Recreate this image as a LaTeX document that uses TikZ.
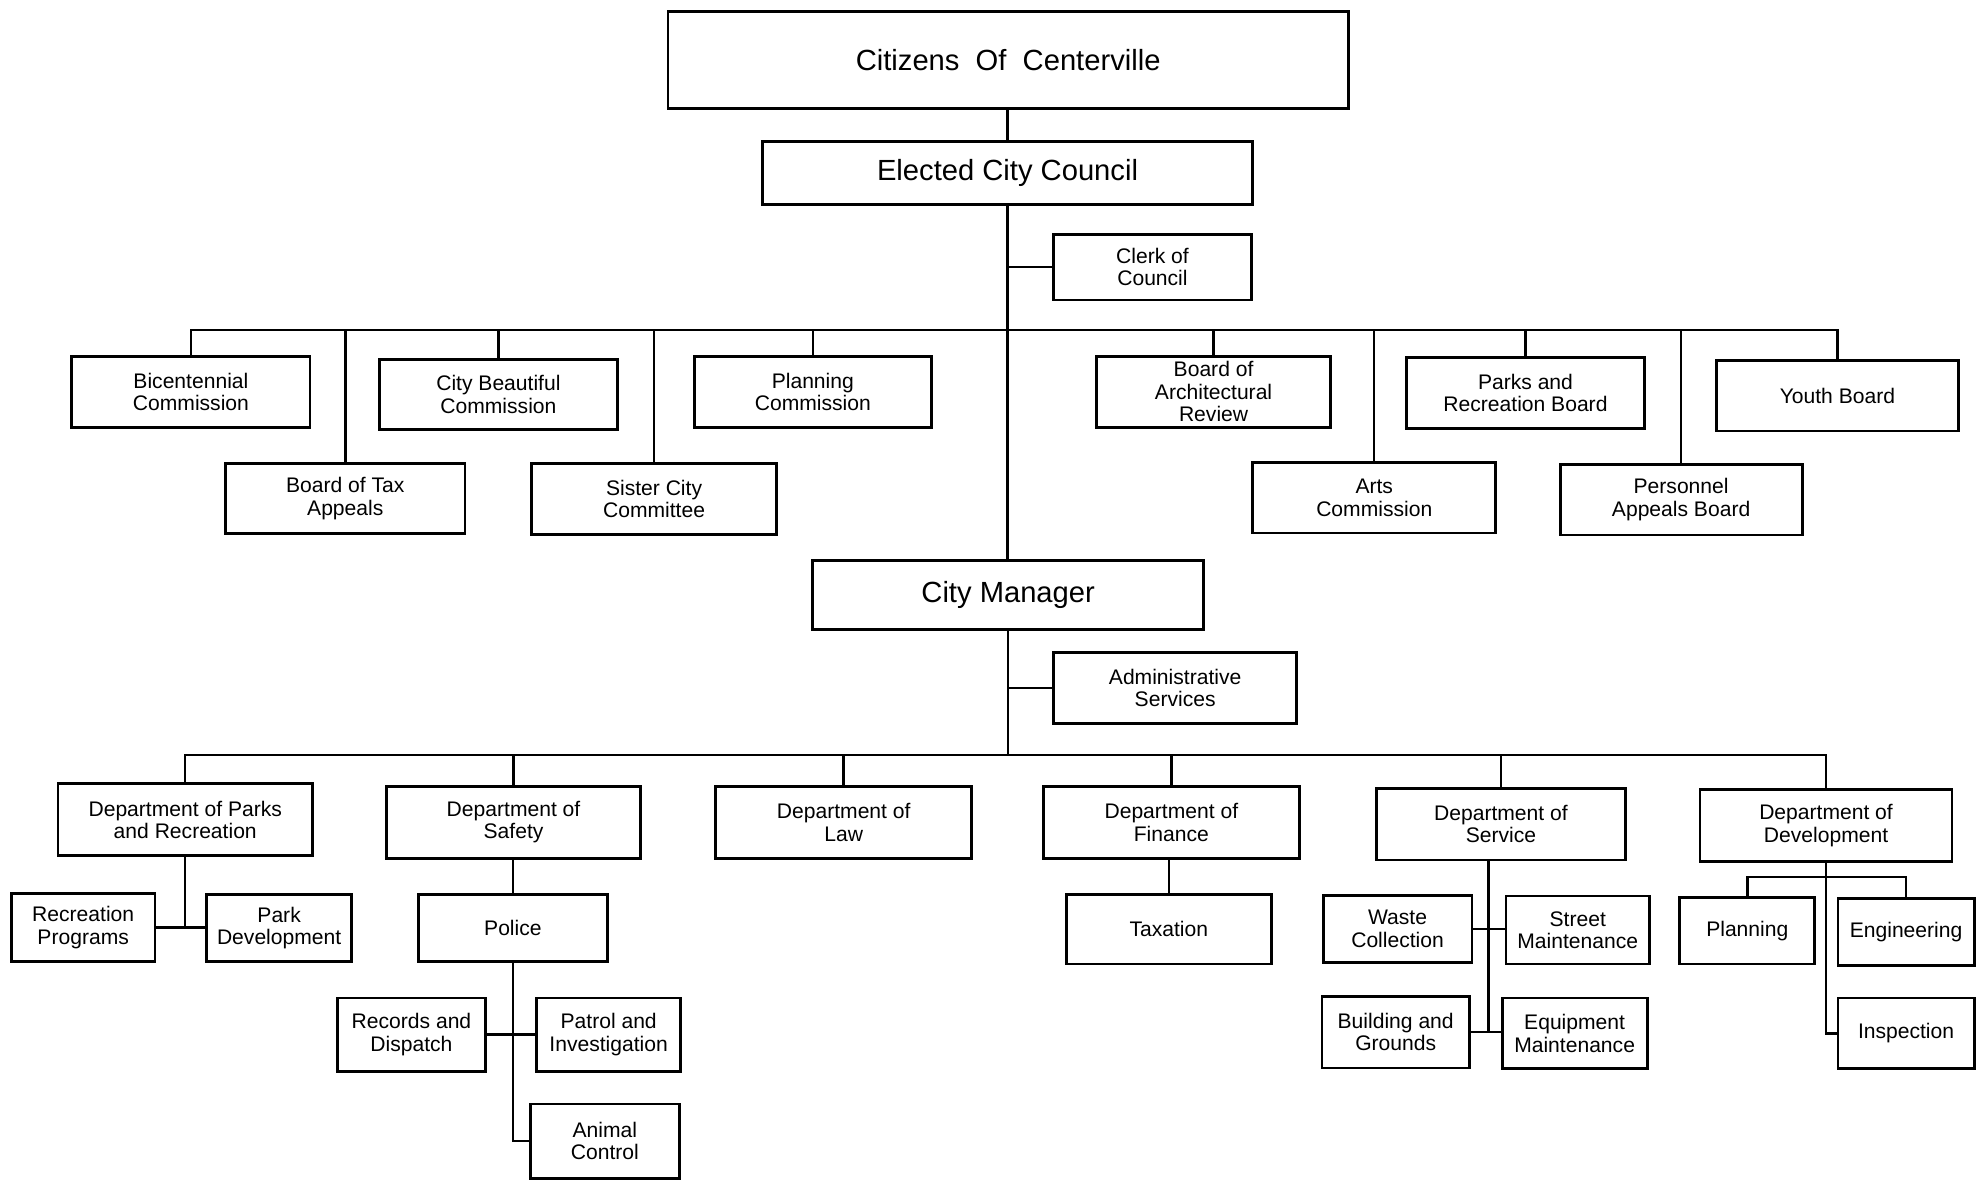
\documentclass[tikz,border=0pt]{standalone}
\usepackage{fontspec}
\setmainfont{Liberation Sans}
\usepackage{tikz}
\newcommand{\unitpx}{0.0126cm}

\begin{document}
\begin{tikzpicture}[x=\unitpx, y=-\unitpx,
	box/.style={draw, line width=0.8pt, inner sep=0pt, align=center, font=\fontsize{6}{6.4}\selectfont},
	big/.style={box, font=\fontsize{8.3}{10}\selectfont},
	wh/.style 2 args={minimum width=#1*\unitpx, minimum height=#2*\unitpx},
	link/.style={line width=0.7pt}]
	\useasboundingbox (0,0) rectangle (1568,936);
	% council level
	\node[big, wh={540}{77}] (citizens) at (800,47.5) {Citizens\ \ Of\ \ Centerville};
	\node[big, wh={389}{50}] (council) at (799.5,137) {Elected City Council};
	\node[box, wh={157}{52}] (clerk) at (914.5,212) {Clerk of\\Council};
	% boards and commissions
	\node[box, wh={189}{56}] (bicent) at (151.5,311) {Bicentennial\\Commission};
	\node[box, wh={189}{56}] (beautiful) at (395.5,313) {City Beautiful\\Commission};
	\node[box, wh={188}{56}] (plancomm) at (645,311) {Planning\\Commission};
	\node[box, wh={186}{56}] (archrev) at (963,311) {Board of\\Architectural\\Review};
	\node[box, wh={189}{56}] (parksboard) at (1210.5,312) {Parks and\\Recreation Board};
	\node[box, wh={192}{56}] (youth) at (1458,314) {Youth Board};
	\node[box, wh={190}{56}] (taxappeals) at (274,395.5) {Board of Tax\\Appeals};
	\node[box, wh={194}{56}] (sister) at (519,396) {Sister City\\Committee};
	\node[box, wh={193}{56}] (arts) at (1090.5,395) {Arts\\Commission};
	\node[box, wh={192}{56}] (personnel) at (1334,396.5) {Personnel\\Appeals Board};
	% manager level
	\node[big, wh={310}{55}] (manager) at (800,472) {City Manager};
	\node[box, wh={193}{56}] (admin) at (932.5,546) {Administrative\\Services};
	% departments
	\node[box, wh={202}{57}] (dparks) at (147,650.5) {Department of Parks\\and Recreation};
	\node[box, wh={201}{57}] (dsafety) at (407.5,652.5) {Department of\\Safety};
	\node[box, wh={203}{57}] (dlaw) at (669.5,652.5) {Department of\\Law};
	\node[box, wh={203}{57}] (dfinance) at (929.5,652.5) {Department of\\Finance};
	\node[box, wh={198}{57}] (dservice) at (1191,654) {Department of\\Service};
	\node[box, wh={200}{57}] (ddevel) at (1449,655) {Department of\\Development};
	% divisions
	\node[box, wh={114}{54}] (recprog) at (66,736) {Recreation\\Programs};
	\node[box, wh={115}{53}] (parkdev) at (221.5,736.5) {Park\\Development};
	\node[box, wh={150}{53}] (police) at (407,736.5) {Police};
	\node[box, wh={117}{58}] (records) at (326.5,821) {Records and\\Dispatch};
	\node[box, wh={114}{58}] (patrol) at (483,821) {Patrol and\\Investigation};
	\node[box, wh={118}{59}] (animal) at (480,905.5) {Animal\\Control};
	\node[box, wh={163}{55}] (taxation) at (927.5,737.5) {Taxation};
	\node[box, wh={118}{53}] (waste) at (1109,737) {Waste\\Collection};
	\node[box, wh={114}{54}] (street) at (1252,738) {Street\\Maintenance};
	\node[box, wh={117}{57}] (building) at (1107.5,819) {Building and\\Grounds};
	\node[box, wh={115}{56}] (equipment) at (1249.5,820) {Equipment\\Maintenance};
	\node[box, wh={107}{53}] (planning) at (1386.5,738.5) {Planning};
	\node[box, wh={108}{53}] (engineering) at (1512.5,739.5) {Engineering};
	\node[box, wh={108}{56}] (inspection) at (1512.5,820) {Inspection};
	% junction points
	\coordinate (topbar) at (799.5,262);
	\coordinate (lowbar) at (799.5,599);
	\coordinate (servtrunk) at (1181,682.5);
	\coordinate (devbar) at (1449,696);
	% connectors
	\draw[link] (council.north) -- (council.north |- citizens.south);
	\draw[link] (council.south) -- (council.south |- manager.north);
	\draw[link] (clerk.west) -- (clerk.west -| council.south);
	\draw[link] (bicent.north) |- (topbar) -| (youth.north);
	\foreach \n in {beautiful,plancomm,archrev,parksboard,taxappeals,sister,arts,personnel}
		\draw[link] (\n.north) -- (\n.north |- topbar);
	\draw[link] (admin.west) -- (admin.west -| manager.south);
	\draw[link] (manager.south) -- (manager.south |- lowbar);
	\draw[link] (dparks.north) |- (lowbar) -| (ddevel.north);
	\foreach \n in {dsafety,dlaw,dfinance,dservice}
		\draw[link] (\n.north) -- (\n.north |- lowbar);
	\draw[link] (dparks.south) -- (dparks.south |- recprog.east);
	\draw[link] (recprog.east) -- (recprog.east -| parkdev.west);
	\draw[link] (police.north) -- (police.north |- dsafety.south);
	\draw[link] (police.south) |- (animal.west);
	\draw[link] (records.east) -- (records.east -| patrol.west);
	\draw[link] (taxation.north) -- (taxation.north |- dfinance.south);
	\draw[link] (servtrunk) -- (servtrunk |- building.east);
	\draw[link] (waste.east) -- (waste.east -| street.west);
	\draw[link] (building.east) -- (building.east -| equipment.west);
	\draw[link] (planning.north) |- (devbar) -| (engineering.north);
	\draw[link] (ddevel.south) |- (inspection.west);
\end{tikzpicture}
\end{document}
